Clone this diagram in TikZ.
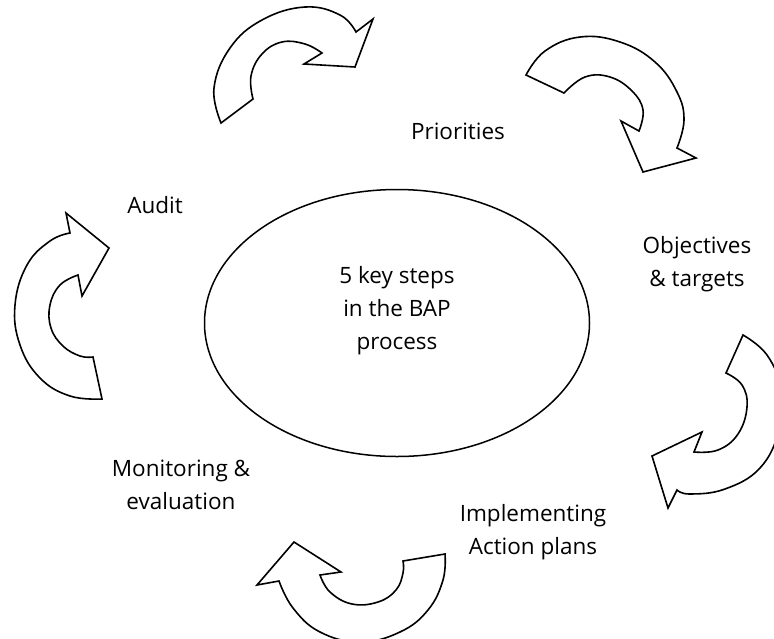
\documentclass[tikz,border=0pt]{standalone}
\usepackage{fontspec}
\setmainfont{Open Sans}
\usepackage{tikz}
\usetikzlibrary{positioning,shapes.geometric}
\tikzset{
    cycle arrow/.style={draw=black,fill=white,line width=1.6pt,line join=miter},
    hub/.style={draw=black,line width=1.5pt,ellipse,minimum width=385pt,minimum height=267pt,inner sep=0pt},
    step label/.style={align=center,inner sep=0pt},
}
\tikzstyle{every node}=[font=\fontsize{22.5}{33}\selectfont]

\begin{document}
\begin{tikzpicture}[x=1pt,y=-1pt]
        \useasboundingbox (0,0) rectangle (774,638);
        \clip (0,0) rectangle (774,638);

        % centre of the cycle
        \node[hub] (hub) at (397,323) {};
        \node[step label] (hubtext) at (397,311) {5 key steps\\in the BAP\\process};

        % the five steps
        \node[step label] (priorities) at (458,131) {Priorities};
        \node[step label] (objectives) at (697,264) {Objectives\\\& targets};
        \node[step label] (implementing) at (533,532) {Implementing\\Action plans};
        \node[step label] (monitoring) at (181,485) {Monitoring \&\\evaluation};
        \node[step label] (audit) at (155,205) {Audit};

        % block arrows, outer rim -> head -> inner rim
        \draw[cycle arrow] plot[smooth,tension=.7] coordinates {(221,123) (214,88) (230,48) (262,20) (305,7) (340,15) (356,32)}
            -- (373,19) -- (355,67) -- (304,64) -- (322,53)
            -- plot[smooth,tension=.7] coordinates {(322,53) (305,44) (282,42) (262,54) (251,76) (253,99)} -- cycle;

        \draw[cycle arrow] plot[smooth,tension=.7] coordinates {(526,75) (545,51) (580,37) (620,42) (655,62) (677,92) (684,120) (677,148)}
            -- (696,158) -- (643,172) -- (621,121) -- (639,131)
            -- plot[smooth,tension=.7] coordinates {(639,131) (643,110) (632,91) (610,77) (585,77) (564,93)} -- cycle;

        \draw[cycle arrow] plot[smooth,tension=.7] coordinates {(743,335) (767,355) (781,390) (779,430) (760,468) (725,489) (690,494) (677,490)}
            -- (668,508) -- (652,456) -- (702,432) -- (694,452)
            -- plot[smooth,tension=.7] coordinates {(694,452) (718,450) (738,434) (747,407) (742,385) (726,373)} -- cycle;

        \draw[cycle arrow] plot[smooth,tension=.7] coordinates {(445,554) (443,580) (428,610) (400,632) (360,642) (320,632) (293,608) (279,581)}
            -- (257,585) -- (294,542) -- (341,572) -- (320,575)
            -- plot[smooth,tension=.7] coordinates {(320,575) (330,592) (352,604) (378,602) (396,590) (403,573) (403,561)} -- cycle;

        \draw[cycle arrow] plot[smooth,tension=.7] coordinates {(102,399) (70,396) (40,378) (20,345) (15,305) (27,265) (50,241) (70,233)}
            -- (66,213) -- (109,248) -- (82,296) -- (78,275)
            -- plot[smooth,tension=.7] coordinates {(78,275) (60,285) (50,305) (51,328) (63,346) (80,356) (93,357)} -- cycle;
\end{tikzpicture}
\end{document}
